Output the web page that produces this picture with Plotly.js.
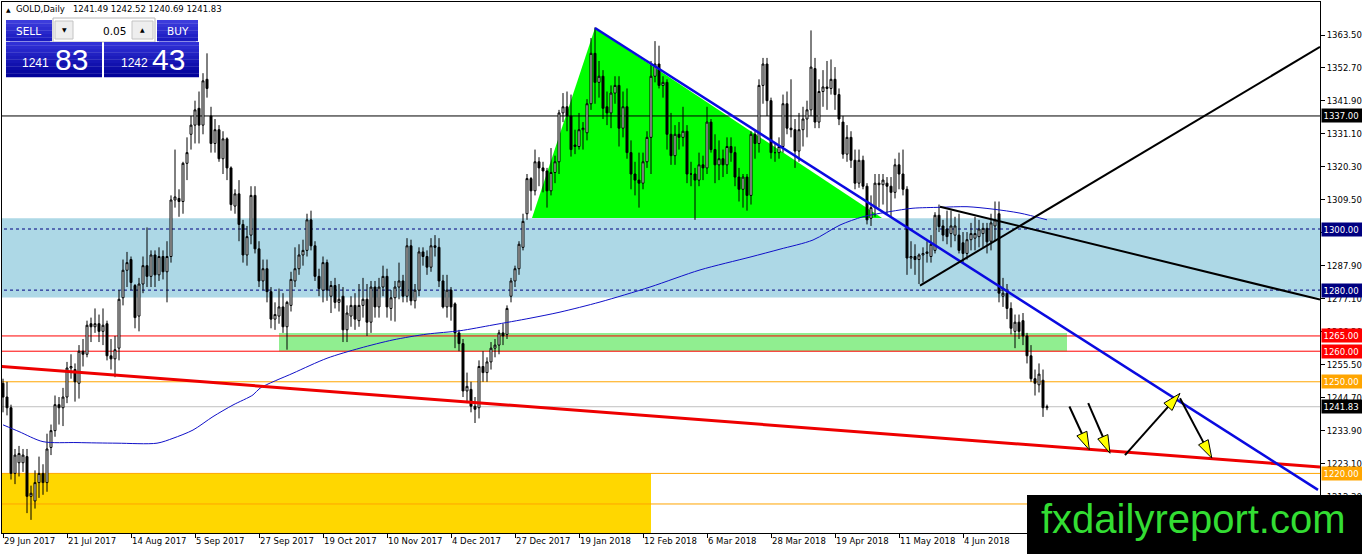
<!DOCTYPE html>
<html><head><meta charset="utf-8">
<script src="https://cdn.plot.ly/plotly-3.0.1.min.js"></script>
<style>html,body{margin:0;padding:0;background:#fff;}#chart{width:1362px;height:554px;}</style>
</head><body><div id="chart"></div>
<script>
// ---- Daily GOLD candles, 29 Jun 2017 .. 3 Jul 2018 ----
const OPEN = [
1249.5,1245,1241.5,1220,1223.5,1223.5,1225.5,1212.5,1211,1217,
1220,1217,1228.5,1234,1242.5,1241.5,1245,1254.5,1254,1249.5,
1260,1259,1269,1268,1269,1266.5,1269,1258.5,1257.5,1261,
1277.5,1286.5,1290,1281.5,1271.5,1282,1288,1284.5,1291.5,1285,
1291,1286,1291,1309.5,1310,1309,1321.5,1331,1334,1339.5,
1334,1349,1337,1328,1332.5,1323,1329.5,1320,1307.5,1311.5,
1301.5,1291.5,1298,1311,1293.5,1283,1287,1279.5,1270.5,1271.5,
1274.5,1268,1275,1283,1287,1291.5,1293,1303,1294.5,1284.5,
1280,1289,1278,1281.5,1276,1278,1267,1271.5,1275,1270,
1275,1277,1269.5,1281,1274.5,1281,1284.5,1274,1277.5,1281,
1283,1278,1294.5,1276.5,1280,1292.5,1291,1287.5,1294.5,1294,
1283,1274.5,1280,1275.5,1266,1262.5,1247,1247.5,1242,1241.5,
1255,1253,1256.5,1261,1262,1266,1265.5,1278,1283,1287,
1294,1305,1316.5,1312.5,1322,1320,1319,1312.5,1318.5,1322,
1338,1340,1337,1327.5,1327,1332.5,1331.5,1341,1357.5,1348,
1350,1340,1338,1344.5,1347,1333,1340,1325,1318,1316,
1315,1322,1330,1350,1354,1347,1348,1331,1324,1331,
1330,1332,1318,1318,1316,1321,1320,1335,1326,1321,
1323,1321,1327,1325,1317,1313,1317,1311,1331,1328,
1347,1354,1342,1325,1325,1327,1341,1333,1332.5,1325.5,
1332.5,1336,1339,1352.5,1335,1345,1346.5,1346,1349,1344,
1335,1324.5,1330,1322.5,1315,1322.5,1314,1303.5,1307,1315,
1314.5,1315,1314,1312,1321,1318,1313,1290.5,1291,1290,
1291.5,1292,1291,1293,1304.5,1301,1300,1298.5,1298,1298,
1295.5,1292,1296.5,1297,1297.5,1298.5,1300.2,1296,1301,1305,
1278,1279,1274,1266.5,1269.5,1270,1265,1258.5,1251,1249,1250.5,1241.49];
const HIGH = [
1251,1250,1242.5,1228,1229,1228,1228,1216,1221,1225.5,
1223,1233,1236,1245.5,1245,1248,1256.5,1259,1256,1262,
1264,1270,1271,1274,1272,1274,1270,1264,1265,1280,
1290,1292.5,1291,1282,1284,1291,1300.5,1293,1293,1294,
1293,1296,1311,1326,1313,1322,1330,1337,1342,1345,
1351,1357.5,1340,1336,1334,1332,1330,1320.5,1313,1316,
1303,1301,1314,1314,1296,1290,1290,1281,1276,1280.5,
1279,1276.5,1286,1294,1295,1296.5,1305,1306,1296,1287,
1291,1290,1283,1284,1282,1281,1275,1278,1279,1282,
1284,1282,1283,1283,1284,1288,1287,1280,1283,1289,
1285,1297,1296.5,1282,1294,1294,1293,1297,1298,1297,
1285,1285,1281,1276,1267,1264,1253,1250,1245,1257,
1260,1258,1263,1264,1267,1269,1275,1284,1288,1296,
1305,1318,1317,1326,1323.5,1322,1320,1326.5,1324,1339,
1344.5,1345,1344,1332.5,1338,1335,1342.5,1362.5,1366,1355,
1352,1345,1347,1350,1350,1345,1346,1329,1322,1325,
1325,1332,1355,1361.5,1360,1350,1349,1338,1334,1335,
1340,1334,1322,1320,1325,1324,1340,1336,1331,1329,
1326,1330,1330,1327,1320,1318,1318,1332,1332,1349,
1356,1356,1343,1328,1330,1344,1345,1349,1336,1338,
1340,1342,1365,1356,1349,1352,1355,1355.5,1353,1346,
1337,1334,1332,1326,1326,1324,1315,1311,1318,1318,
1318,1317,1317,1323,1325,1326,1314,1296,1295,1292,
1294,1296,1298,1305.5,1308,1303,1306,1306,1304,1305,
1299,1299,1302,1304,1303,1302,1302,1305,1309,1309,
1284,1282,1276,1272,1272,1272.5,1266,1262,1254,1256,1254,1242.52];
const LOW = [
1240,1239,1218,1216.5,1219,1220.5,1207,1204.8,1208.5,1212,
1213,1214,1226,1232,1236,1235.5,1243,1251,1243.5,1244.5,
1255,1258,1263,1266,1263,1262,1257,1254,1251.5,1257,
1275,1281,1280,1267.5,1266.5,1279,1281,1281,1281,1283,
1283.5,1276,1289,1307,1304,1305,1316,1326,1328,1328,
1331,1343,1325,1325,1322,1318,1316,1306,1305,1296,
1289,1288,1295,1292,1281,1280,1276,1267.5,1267,1269,
1266,1260.5,1273,1281,1285,1288,1291,1293,1283,1278,
1276,1276.5,1272.5,1274,1273,1263,1263,1268,1267,1268,
1271,1265,1266,1271,1271,1278,1271,1270,1269.7,1277,
1276,1276,1275,1274,1278,1288,1285,1286,1291,1281,
1274,1271,1270,1261,1260,1245,1243,1240,1236.5,1238,
1250,1250,1254,1258,1259,1262,1264,1276,1281,1285,
1293,1303,1306,1311,1314,1312,1307,1311,1315,1318,
1335,1332,1323.7,1324.5,1326,1326,1329,1339,1341,1343,
1336,1334,1333,1341,1327,1330,1323,1313,1311,1307,
1313,1320,1318,1348,1346,1343,1326,1321,1321,1326,
1327,1315,1314,1303,1314,1316,1318,1325,1315,1316,
1317,1318,1322,1314,1309,1307,1306,1308,1323,1325,
1341,1337,1323,1322,1323,1325,1331,1330,1320,1322,
1327,1330,1337,1333,1333,1340,1339,1344,1339,1334,
1323,1322,1320,1313,1313.5,1313,1301.5,1301,1304,1307,
1308,1305,1304,1310,1313,1311,1285,1287,1285,1282,
1282.5,1289,1289,1292,1299,1296,1295,1294,1296,1292,
1289,1290,1293,1293,1294,1294,1292,1293,1296,1276,
1274.5,1270.5,1265.5,1261,1264,1262,1256,1250,1245.5,1246.5,1238.5,1240.69];
const CLOSE = [
1245,1241.5,1220,1226,1226.5,1226,1212.5,1213.5,1217,1220,
1217,1228,1234,1242.5,1241.5,1245,1254.5,1255,1250,1260,
1259,1268.5,1268,1269,1266.5,1268.5,1258.5,1257.5,1260.5,1277,
1286.5,1289,1282.5,1271,1282,1288,1284.5,1291.5,1285,1291,
1286,1291,1309.5,1310.5,1309,1321.5,1325,1334,1339,1334,
1348.5,1346,1328,1332.5,1323,1329.5,1320,1308,1311.5,1301.5,
1291.5,1297.5,1311,1293.5,1283,1287,1279.5,1270.5,1272,1274.5,
1268,1276,1283.5,1287,1291.5,1293,1303,1294.5,1284.5,1280.5,
1289,1280,1281.5,1276,1277,1267,1272.5,1275,1270.5,1275,
1277,1269.5,1281,1274.5,1281,1284.5,1274.5,1277.5,1281,1283,
1278,1294.5,1276.5,1280,1292.5,1291,1287.5,1294.5,1294,1283,
1274.5,1280,1274.5,1266,1262.5,1247,1248.5,1242,1241,1255,
1253,1256.5,1261,1262,1266,1265,1274,1283,1287,1295,
1302.5,1316.5,1312.5,1322,1320,1319,1312.5,1318.5,1322,1338,
1340,1337,1326,1327,1332.5,1333,1341,1357.5,1348,1350,
1339.5,1338,1344.5,1347,1333,1340,1325,1318,1316,1315,
1322,1330,1350,1354,1347,1348,1331,1324,1331,1330,
1332,1318,1318,1316,1321,1320,1335,1326,1321,1323,
1321,1327,1325,1317,1313,1317,1311,1331,1328,1347,
1354,1342,1325,1325,1327,1341,1333,1332.5,1325.5,1332.5,
1336,1339,1353,1335,1345,1346.5,1346,1349,1344,1336,
1324.5,1330,1322.5,1315,1322.5,1314,1303,1307,1315,1314.5,
1316,1314,1312,1321,1318,1313,1290.5,1291,1290,1291.5,
1292,1292.5,1295,1304.5,1300.8,1298,1297.5,1301,1301,1293,
1292,1296.5,1298.5,1298.5,1300,1300.2,1295.8,1302,1303,1279,
1279,1274,1267.5,1269.5,1266.5,1265,1258.5,1251,1249.5,1252.5,1241.5,1241.83];

// 200-day moving average (bar index, price)
const MA_IDX = [0,4,10,18.5,28.5,38.5,42.5,47.5,52.5,57.5,62.5,64.25,72.5,81,89.25,97.5,106,114.25,122.5,131.75,139.25,149.25,161.75,174.25,186.75,194.25,202.5,209.25,215,221.75,227.5,234.25,241,247.5,254.25,261];
const MA_VAL = [1235.9,1233.7,1230.4,1230.1,1229.9,1229.9,1231.5,1234.2,1238.6,1242.4,1245.7,1247.9,1252.8,1257.7,1261.0,1263.7,1265.6,1266.7,1268.6,1270.8,1272.8,1276.1,1281,1286.6,1290.8,1293.4,1296.4,1301.3,1304.0,1305.7,1306.8,1307.1,1307.3,1306.5,1305.2,1303];

// axis ticks
const TICK_IDX = [0,16,32,48,64,80,96,112,128,144,160,176,192,208,224,240];
const TICK_LABELS = ['29 Jun 2017','21 Jul 2017','14 Aug 2017','5 Sep 2017','27 Sep 2017','19 Oct 2017','10 Nov 2017','4 Dec 2017','27 Dec 2017','19 Jan 2018','12 Feb 2018','6 Mar 2018','28 Mar 2018','19 Apr 2018','11 May 2018','4 Jun 2018'];
const PRICE_TICKS = [1363.5,1352.7,1341.9,1331.1,1320.3,1309.5,1298.7,1287.9,1277.1,1266.3,1255.5,1244.7,1233.9,1223.1,1212.3];

// horizontal levels and their price tags
const LEVEL_PRICES = [1337, 1300, 1280, 1265, 1260, 1250, 1241.83, 1220, 1210];
const LEVEL_COLORS = ['#000000','#000080','#000080','#ff0000','#ff0000','#ffa500','#c0c0c0','#ffa500','#ffa500'];
const LEVEL_DASH   = ['solid','dash','dash','solid','solid','solid','solid','solid','solid'];
const TAG_PRICES = [1337, 1300, 1280, 1265, 1260, 1250, 1241.83, 1220];
const TAG_COLORS = ['#000000','#000080','#000080','#ff0000','#ff0000','#ffa500','#000000','#ffa500'];

// zones [x0,x1,p0,p1]
const ZONE_BLUE = [-2, 340, 1277.6, 1303.5];
const ZONE_GREEN = [69, 266, 1260, 1266];
const ZONE_GOLD = [-2, 162, 1190, 1220];
const TRIANGLE = [[132.25,1303.6],[148,1365.8],[219.75,1303.6]];
// trend lines [i0,p0,i1,p1]
const LINE_BLUE = [148, 1365.8, 328.75, 1214.6];
const LINE_RED = [-1, 1255.1, 329.25, 1222.1];
const LINE_BLACK_UP = [229.25, 1281.5, 329.25, 1359.6];
const LINE_BLACK_DN = [234.25, 1307.3, 329.25, 1276.9];
const ARROWS = [[266.6,1241.9,271.6,1227.7],[271.3,1243.0,276.75,1226.6],[280.5,1226.0,294.25,1246.2],[294.25,1244.6,302.2,1225.0]];

// ---- geometry of the plot area ----
const W = 1362, H = 554, ML = 2, MR = 42, MT = 2, MB = 21;
const PW = W - ML - MR, PH = H - MT - MB;
const XR = [-0.25, 329.25], YR = [1200.5, 1374.3];
function toPx(i, p){ return [ML + (i - XR[0])/(XR[1]-XR[0])*PW, MT + (YR[1]-p)/(YR[1]-YR[0])*PH]; }
function fromPx(x, y){ return [XR[0] + (x-ML)/PW*(XR[1]-XR[0]), YR[1] - (y-MT)/PH*(YR[1]-YR[0])]; }
function PX(x){ return (x-ML)/PW; }
function PY(y){ return (MT+PH-y)/PH; }

const shapes = [];
function zone(z, color){ shapes.push({type:'rect', xref:'x', yref:'y', x0:z[0], x1:z[1], y0:z[2], y1:z[3], fillcolor:color, line:{width:0}, layer:'below'}); }
zone(ZONE_BLUE, '#add8e6');
zone(ZONE_GOLD, '#ffd700');
zone(ZONE_GREEN, '#90ee90');
shapes.push({type:'path', xref:'x', yref:'y', layer:'below', fillcolor:'#00ff00', line:{width:0},
  path:'M'+TRIANGLE.map(p=>p[0]+','+p[1]).join(' L')+' Z'});
LEVEL_PRICES.forEach((p,k)=>{
  shapes.push({type:'line', xref:'x', yref:'y', x0:XR[0]-1, x1:XR[1]+1, y0:p, y1:p, layer:'below',
    line:{color:LEVEL_COLORS[k], width:1, dash:LEVEL_DASH[k]==='dash'?'3px,3px':'solid'}});
});
function tline(L, color, w){ shapes.push({type:'line', xref:'x', yref:'y', x0:L[0], y0:L[1], x1:L[2], y1:L[3], layer:'above', line:{color:color, width:w}}); }
tline(LINE_RED, '#ee0000', 3);
tline(LINE_BLUE, '#0a0ae0', 2.5);
tline(LINE_BLACK_UP, '#000000', 2);
tline(LINE_BLACK_DN, '#000000', 2);
// arrows: black shaft + yellow head
ARROWS.forEach(a=>{
  const s = toPx(a[0],a[1]), e = toPx(a[2],a[3]);
  const dx = e[0]-s[0], dy = e[1]-s[1], len = Math.hypot(dx,dy);
  const ux = dx/len, uy = dy/len, nx = -uy, ny = ux;
  const L = 18, Wd = 5.5;
  const b = [e[0]-ux*L, e[1]-uy*L];
  const sd = fromPx(s[0],s[1]), bd = fromPx(b[0]+ux*3, b[1]+uy*3);
  shapes.push({type:'line', xref:'x', yref:'y', x0:sd[0], y0:sd[1], x1:bd[0], y1:bd[1], layer:'above', line:{color:'#000', width:2}});
  const p1 = fromPx(e[0],e[1]), p2 = fromPx(b[0]+nx*Wd, b[1]+ny*Wd), p3 = fromPx(b[0]-nx*Wd, b[1]-ny*Wd);
  shapes.push({type:'path', xref:'x', yref:'y', layer:'above', fillcolor:'#ffff00', line:{color:'#000', width:1},
    path:'M'+p1[0]+','+p1[1]+' L'+p2[0]+','+p2[1]+' L'+p3[0]+','+p3[1]+' Z'});
});

// ---- one-click trading panel (pixel boxes) ----
function prect(x0,y0,x1,y1,fill,lc){ shapes.push({type:'rect', xref:'paper', yref:'paper', x0:PX(x0), x1:PX(x1), y0:PY(y1), y1:PY(y0), fillcolor:fill, line:{width:lc?1:0, color:lc||fill}, layer:'above'}); }
function hex(c){ return [parseInt(c.slice(1,3),16),parseInt(c.slice(3,5),16),parseInt(c.slice(5,7),16)]; }
function grad(x0,y0,x1,y1,c0,c1,n){
  const a = hex(c0), b = hex(c1);
  for(let k=0;k<n;k++){
    const t = k/(n-1);
    const c = 'rgb('+a.map((v,j)=>Math.round(v+(b[j]-v)*t)).join(',')+')';
    prect(x0, y0+(y1-y0)*k/n, x1, y0+(y1-y0)*(k+1)/n + 0.3, c);
  }
}
grad(6,20,52,41,'#3c3cdc','#1a1ac0',6);
grad(157,20,198,41,'#3c3cdc','#1a1ac0',6);
prect(53,18,155,42,'#ffffff','#b8b8b8');
prect(55,21,73,39,'#eeeeee','#c4c4c4');
prect(132,21,153,39,'#eeeeee','#c4c4c4');
grad(6,42,102,77,'#3030d6','#02029a',10);
grad(104,42,199,77,'#3030d6','#02029a',10);
shapes.push({type:'line', xref:'paper', yref:'paper', x0:PX(10), x1:PX(50), y0:PY(41.5), y1:PY(41.5), layer:'above', line:{color:'#8a8ae6', width:1}});
shapes.push({type:'line', xref:'paper', yref:'paper', x0:PX(159), x1:PX(196), y0:PY(41.5), y1:PY(41.5), layer:'above', line:{color:'#8a8ae6', width:1}});
// logo box
shapes.push({type:'rect', xref:'paper', yref:'paper', x0:PX(1027), x1:PX(1370), y0:PY(560), y1:PY(495), fillcolor:'#000', line:{width:0}, layer:'above'});

// ---- annotations ----
const FONT = 'DejaVu Sans, Verdana, sans-serif';
const ann = [];
function ptext(x, y, txt, size, color, xa, fam){ ann.push({xref:'paper', yref:'paper', x:PX(x), y:PY(y), text:txt, showarrow:false, xanchor:xa||'center', yanchor:'middle', font:{family:fam||FONT, size:size, color:color}}); }
ptext(4, 9, '<span style="font-size:6px">\u25B2</span>\u00a0 GOLD,Daily\u00a0\u00a0 ' + [OPEN[OPEN.length-1],HIGH[HIGH.length-1],LOW[LOW.length-1],CLOSE[CLOSE.length-1]].map(v=>v.toFixed(2)).join(' '), 8.5, '#000', 'left');
ptext(28.5, 30.5, 'SELL', 10.5, '#fff');
ptext(177.5, 30.5, 'BUY', 10.5, '#fff');
ptext(128, 30.5, '0.05', 10.5, '#000', 'right');
ptext(64, 30, '\u25BC', 6, '#000');
ptext(142.5, 30, '\u25B2', 6, '#000');
const bid = CLOSE[CLOSE.length-1], ask = bid + 0.60;
ptext(35.5, 63, Math.floor(bid).toString(), 12, '#fff', 'center', 'Liberation Sans, Arial, sans-serif');
ptext(71, 59, bid.toFixed(2).split('.')[1], 30, '#fff', 'center', 'Liberation Sans, Arial, sans-serif');
ptext(134, 63, Math.floor(ask).toString(), 12, '#fff', 'center', 'Liberation Sans, Arial, sans-serif');
ptext(168.5, 59, ask.toFixed(2).split('.')[1], 30, '#fff', 'center', 'Liberation Sans, Arial, sans-serif');
ptext(1193.5, 519, 'fxdailyreport.com', 40, '#33dd33', 'center', 'Liberation Sans, Arial, sans-serif');
TAG_PRICES.forEach((p,k)=>{
  ann.push({xref:'paper', yref:'y', x:1, y:p, xanchor:'left', yanchor:'middle', xshift:1, showarrow:false,
    text:p.toFixed(2), bgcolor:TAG_COLORS[k], borderpad:1.5, width:38, align:'left',
    font:{family:FONT, size:8.5, color:'#fff'}});
});

const traces = [
  {type:'candlestick', x:OPEN.map((_,i)=>i), open:OPEN, high:HIGH, low:LOW, close:CLOSE,
   increasing:{line:{color:'#000', width:1}, fillcolor:'#ffffff'},
   decreasing:{line:{color:'#000', width:1}, fillcolor:'#000000'},
   whiskerwidth:0, hoverinfo:'skip'},
  {type:'scatter', mode:'lines', x:MA_IDX, y:MA_VAL, line:{color:'#1010c8', width:1, shape:'spline', smoothing:0.8}, hoverinfo:'skip'}
];

const layout = {
  width:W, height:H, margin:{l:ML, r:MR, t:MT, b:MB, pad:0},
  paper_bgcolor:'#fff', plot_bgcolor:'#fff', showlegend:false, hovermode:false,
  font:{family:FONT, size:8.5, color:'#000'},
  xaxis:{type:'linear', range:XR, rangeslider:{visible:false}, showgrid:false, zeroline:false,
    showline:true, linecolor:'#000', linewidth:1, mirror:true,
    tickmode:'array', tickvals:TICK_IDX, ticktext:TICK_LABELS, ticks:'outside', ticklen:4, tickcolor:'#000',
    ticklabelposition:'outside right', tickfont:{family:FONT, size:8.5, color:'#000'}},
  yaxis:{range:YR, side:'right', showgrid:false, zeroline:false, showline:true, linecolor:'#000', linewidth:1, mirror:true,
    tickmode:'array', tickvals:PRICE_TICKS, ticktext:PRICE_TICKS.map(v=>v.toFixed(2)), ticks:'outside', ticklen:4, tickcolor:'#000',
    tickfont:{family:FONT, size:8.5, color:'#000'}},
  boxgap:0.3, boxgroupgap:0.3,
  shapes:shapes, annotations:ann
};
Plotly.newPlot('chart', traces, layout, {staticPlot:true, displayModeBar:false});
</script>
</body></html>
